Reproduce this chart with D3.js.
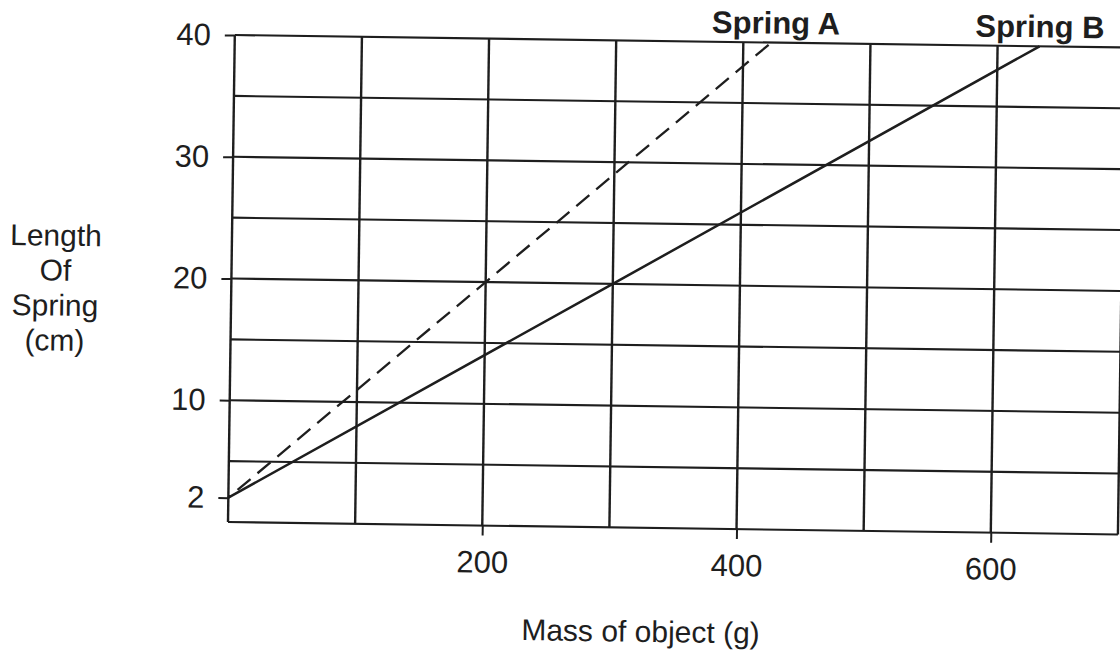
<!DOCTYPE html>
<html>
<head>
<meta charset="utf-8">
<script src="https://cdn.jsdelivr.net/npm/d3@7"></script>
<style>
  body { margin: 0; background: #fff; }
  text { font-family: "Liberation Sans", Arial, sans-serif; fill: #1e1e1e; }
</style>
</head>
<body>
<script>
// values
const massTicks = [200, 400, 600];
const lengthTicks = [40, 30, 20, 10, 2];
const massGrid = [0, 100, 200, 300, 400, 500, 600, 700];
const lengthGrid = [0, 5, 10, 15, 20, 25, 30, 35, 40];
const springAMass = [0, 200, 422];
const springALength = [2, 20, 40];
const springBMass = [0, 300, 633];
const springBLength = [2, 20, 40];
const yTitleLines = ['Length', 'Of', 'Spring', '(cm)'];

const W = 1120, H = 651;
const X0 = 228, X1 = 1118, Y0 = 522, Y1 = 35;
const INK = '#1e1e1e';

const x = d3.scaleLinear().domain([0, 700]).range([X0, X1]);
const y = d3.scaleLinear().domain([0, 40]).range([Y0, Y1]);

const svg = d3.select('body').append('svg')
    .attr('width', W)
    .attr('height', H);

svg.append('rect').attr('width', W).attr('height', H).attr('fill', '#fff');

// the scan is tilted slightly clockwise
const g = svg.append('g').attr('transform', `rotate(0.8, ${X0}, ${Y0})`);

// grid
g.append('g').selectAll('line').data(massGrid).join('line')
    .attr('x1', d => x(d)).attr('x2', d => x(d))
    .attr('y1', y(0)).attr('y2', y(40))
    .attr('stroke', INK).attr('stroke-width', 2.4);

g.append('g').selectAll('line').data(lengthGrid).join('line')
    .attr('x1', x(0)).attr('x2', x(700))
    .attr('y1', d => y(d)).attr('y2', d => y(d))
    .attr('stroke', INK).attr('stroke-width', 2.1);

// axes (ticks + labels only)
const xAxis = g.append('g')
    .attr('transform', `translate(0, ${Y0})`)
    .call(d3.axisBottom(x).tickValues(massTicks).tickSize(10).tickPadding(15));
const yAxis = g.append('g')
    .attr('transform', `translate(${X0}, 0)`)
    .call(d3.axisLeft(y).tickValues(lengthTicks).tickSize(10).tickPadding(14));

[xAxis, yAxis].forEach(a => {
    a.select('.domain').remove();
    a.selectAll('.tick line').attr('stroke', INK).attr('stroke-width', 2);
    a.selectAll('.tick text')
        .attr('fill', INK)
        .style('font-family', '"Liberation Sans", Arial, sans-serif')
        .style('font-size', '31px');
});

// springs
const line = d3.line().x(d => x(d[0])).y(d => y(d[1]));

g.append('path')
    .datum(d3.zip(springAMass, springALength))
    .attr('d', line)
    .attr('fill', 'none')
    .attr('stroke', INK)
    .attr('stroke-width', 2.3)
    .attr('stroke-dasharray', '17,9')
    .attr('stroke-dashoffset', -12);

g.append('path')
    .datum(d3.zip(springBMass, springBLength))
    .attr('d', line)
    .attr('fill', 'none')
    .attr('stroke', INK)
    .attr('stroke-width', 2.5);

// series labels
g.append('text')
    .attr('x', 769).attr('y', 26)
    .attr('text-anchor', 'middle')
    .attr('font-weight', 'bold')
    .attr('font-size', 31)
    .text('Spring A');

g.append('text')
    .attr('x', 1033).attr('y', 26)
    .attr('text-anchor', 'middle')
    .attr('font-weight', 'bold')
    .attr('font-size', 31)
    .text('Spring B');

// axis titles
g.append('text')
    .attr('x', 642).attr('y', 636)
    .attr('text-anchor', 'middle')
    .attr('font-size', 30)
    .text('Mass of object (g)');

g.append('text')
    .attr('text-anchor', 'middle')
    .attr('font-size', 30)
    .selectAll('tspan').data(yTitleLines).join('tspan')
    .attr('x', 52)
    .attr('y', (d, i) => 248 + i * 35)
    .text(d => d);
</script>
</body>
</html>
